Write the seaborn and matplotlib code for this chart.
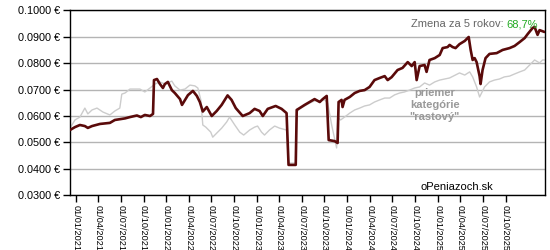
import matplotlib
matplotlib.use("Agg")
import matplotlib.pyplot as plt
import matplotlib.dates as mdates
import matplotlib.ticker as mticker
import seaborn as sns
import pandas as pd

fund_dates = ["2020-12-08","2020-12-28","2021-01-17","2021-02-06","2021-02-18","2021-03-07","2021-04-08","2021-05-18","2021-06-07","2021-07-18",
"2021-08-07","2021-09-04","2021-09-20","2021-10-06","2021-10-27","2021-11-08","2021-11-12","2021-11-24","2021-12-06","2021-12-18",
"2021-12-26","2022-01-07","2022-01-23","2022-02-04","2022-02-25","2022-03-05","2022-03-29","2022-04-18","2022-05-04","2022-05-16",
"2022-05-28","2022-06-13","2022-07-03","2022-07-23","2022-08-12","2022-09-05","2022-09-21","2022-10-08","2022-11-05","2022-12-03",
"2022-12-23","2023-01-12","2023-01-25","2023-02-14","2023-03-18","2023-04-11","2023-05-01","2023-05-09","2023-06-07","2023-06-11",
"2023-06-23","2023-07-13","2023-08-02","2023-08-22","2023-09-12","2023-09-24","2023-10-10","2023-10-18","2023-11-11","2023-11-23",
"2023-11-27","2023-12-09","2023-12-13","2023-12-21","2024-01-11","2024-01-31","2024-02-20","2024-03-11","2024-03-31","2024-04-20",
"2024-05-11","2024-05-31","2024-06-12","2024-06-28","2024-07-22","2024-08-11","2024-09-01","2024-09-17","2024-09-29","2024-10-07",
"2024-10-19","2024-11-08","2024-11-16","2024-11-28","2024-12-19","2025-01-08","2025-01-20","2025-02-09","2025-02-17","2025-03-01",
"2025-03-13","2025-03-29","2025-04-19","2025-05-05","2025-05-13","2025-05-21","2025-05-29","2025-06-06","2025-06-18","2025-06-22",
"2025-06-30","2025-07-12","2025-07-28","2025-08-26","2025-09-19","2025-10-17","2025-11-06","2025-11-27","2025-12-17","2025-12-29",
"2026-01-18","2026-01-26","2026-02-07","2026-02-15","2026-03-07"]
fund_values = [0.0547,0.0558,0.0566,0.0562,0.0555,0.0562,0.0570,0.0574,0.0585,0.0591,
0.0596,0.0602,0.0596,0.0604,0.0600,0.0608,0.0736,0.0740,0.0721,0.0706,
0.0721,0.0729,0.0698,0.0687,0.0664,0.0642,0.0679,0.0695,0.0676,0.0653,
0.0617,0.0634,0.0600,0.0619,0.0642,0.0678,0.0661,0.0630,0.0600,0.0611,
0.0627,0.0619,0.0600,0.0627,0.0638,0.0627,0.0611,0.0415,0.0415,0.0623,
0.0630,0.0642,0.0653,0.0664,0.0653,0.0664,0.0676,0.0509,0.0505,0.0498,
0.0653,0.0661,0.0634,0.0661,0.0672,0.0687,0.0695,0.0698,0.0710,0.0736,
0.0744,0.0751,0.0736,0.0747,0.0774,0.0782,0.0804,0.0789,0.0804,0.0736,
0.0789,0.0793,0.0767,0.0812,0.0819,0.0831,0.0857,0.0861,0.0869,0.0861,
0.0857,0.0872,0.0884,0.0899,0.0850,0.0812,0.0819,0.0804,0.0751,0.0721,
0.0774,0.0819,0.0835,0.0838,0.0850,0.0857,0.0865,0.0880,0.0895,0.0910,
0.0933,0.0937,0.0907,0.0925,0.0918]

avg_dates = ["2020-12-08","2020-12-28","2021-01-17","2021-02-06","2021-02-18","2021-03-07","2021-03-27","2021-04-20","2021-05-18","2021-06-07",
"2021-06-27","2021-07-05","2021-07-18","2021-08-07","2021-08-27","2021-09-16","2021-10-06","2021-10-27","2021-11-16","2021-12-06",
"2021-12-26","2022-01-15","2022-01-23","2022-02-04","2022-02-25","2022-03-17","2022-04-06","2022-04-26","2022-05-08","2022-05-20",
"2022-05-28","2022-06-09","2022-06-29","2022-07-07","2022-07-27","2022-08-12","2022-09-01","2022-09-13","2022-10-04","2022-10-24",
"2022-11-09","2022-12-03","2022-12-23","2023-01-04","2023-01-20","2023-02-01","2023-02-21","2023-03-14","2023-04-03","2023-05-01",
"2023-05-09","2023-06-07","2023-06-11","2023-06-23","2023-07-13","2023-08-02","2023-08-22","2023-09-12","2023-10-02","2023-10-14",
"2023-10-30","2023-11-19","2023-11-23","2023-12-05","2023-12-21","2024-01-11","2024-01-31","2024-02-20","2024-03-11","2024-03-31",
"2024-04-20","2024-05-11","2024-05-31","2024-06-20","2024-07-10","2024-07-30","2024-08-19","2024-09-08","2024-09-29","2024-10-19",
"2024-11-08","2024-11-28","2024-12-19","2025-01-08","2025-02-17","2025-03-29","2025-04-19","2025-05-09","2025-05-21","2025-06-06",
"2025-06-18","2025-06-26","2025-07-08","2025-07-28","2025-08-17","2025-09-06","2025-09-26","2025-10-17","2025-11-06","2025-11-27",
"2025-12-17","2026-01-06","2026-01-26","2026-02-15","2026-02-27","2026-03-07"]
avg_values = [0.0554,0.0585,0.0596,0.0630,0.0608,0.0623,0.0630,0.0615,0.0604,0.0619,
0.0630,0.0683,0.0687,0.0702,0.0702,0.0702,0.0691,0.0706,0.0721,0.0729,
0.0721,0.0729,0.0732,0.0714,0.0698,0.0702,0.0717,0.0714,0.0706,0.0661,
0.0566,0.0558,0.0539,0.0520,0.0539,0.0554,0.0577,0.0596,0.0566,0.0539,
0.0528,0.0547,0.0558,0.0562,0.0539,0.0528,0.0547,0.0562,0.0554,0.0547,
0.0422,0.0422,0.0615,0.0627,0.0638,0.0649,0.0657,0.0657,0.0661,0.0649,
0.0566,0.0479,0.0596,0.0585,0.0596,0.0611,0.0623,0.0630,0.0638,0.0642,
0.0653,0.0661,0.0668,0.0668,0.0680,0.0687,0.0691,0.0698,0.0706,0.0710,
0.0725,0.0717,0.0729,0.0736,0.0744,0.0763,0.0755,0.0767,0.0748,0.0710,
0.0672,0.0687,0.0710,0.0729,0.0736,0.0740,0.0748,0.0751,0.0759,0.0767,
0.0774,0.0793,0.0812,0.0801,0.0812,0.0812]

tick_dates = ["2021-01-01","2021-04-01","2021-07-01","2021-10-01","2022-01-01","2022-04-01","2022-07-01","2022-10-01",
"2023-01-01","2023-04-01","2023-07-01","2023-10-01","2024-01-01","2024-04-01","2024-07-01","2024-10-01",
"2025-01-01","2025-04-01","2025-07-01","2025-10-01"]
y_ticks = [0.03, 0.04, 0.05, 0.06, 0.07, 0.08, 0.09, 0.10]
change_label = "Zmena za 5 rokov: "
change_value = "68,7%"
avg_label = "priemer\nkategórie\n\"rastový\""
source_label = "oPeniazoch.sk"

sns.set_theme(style="white")
plt.rcParams['font.family'] = ['Liberation Sans', 'DejaVu Sans']

fund = pd.DataFrame({"date": pd.to_datetime(fund_dates), "value": fund_values})
avg = pd.DataFrame({"date": pd.to_datetime(avg_dates), "value": avg_values})

fig = plt.figure(figsize=(5.5, 2.5), dpi=100)
ax = fig.add_axes([70/550, 1-195.3/250, 475/550, 185/250])

for yv in y_ticks:
    ax.axhline(yv, color="#b4b4b4", linewidth=1.0, zorder=0)

sns.lineplot(data=avg, x="date", y="value", ax=ax, color="#cccccc", linewidth=1.0, zorder=2)
sns.lineplot(data=fund, x="date", y="value", ax=ax, color="#5a0a0a", linewidth=1.9, zorder=3)

ax.set_xlim(pd.Timestamp("2020-12-08"), pd.Timestamp("2026-03-09"))
ax.set_ylim(0.03, 0.10)
ax.set_xlabel("")
ax.set_ylabel("")

ax.set_yticks(y_ticks)
ax.yaxis.set_major_formatter(mticker.FuncFormatter(lambda v, p: f"{v:.4f} €"))
ax.set_xticks(pd.to_datetime(tick_dates))
ax.xaxis.set_major_formatter(mdates.DateFormatter("%d/%m/%Y"))
ax.tick_params(axis="x", direction="out", length=5, width=1, color="black", labelsize=6.6, labelcolor="black",
               rotation=270, pad=2, bottom=True)
ax.tick_params(axis="y", direction="out", length=5, width=1, color="black", labelsize=7.8, labelcolor="black",
               pad=2, left=True)
for lbl in ax.get_xticklabels():
    lbl.set_verticalalignment("top")
    lbl.set_horizontalalignment("center")

for s in ax.spines.values():
    s.set_visible(True)
    s.set_color("black")
    s.set_linewidth(1.0)

t1 = ax.text(0.985, 0.925, change_value, transform=ax.transAxes, ha="right", va="center",
             fontsize=8, color="#22aa22")
fig.canvas.draw()
bb = t1.get_window_extent()
inv = ax.transAxes.inverted()
x0 = inv.transform((bb.x0, bb.y0))[0]
ax.text(x0, 0.925, change_label, transform=ax.transAxes, ha="right", va="center",
        fontsize=8, color="#666666")

ax.text(0.768, 0.49, avg_label, transform=ax.transAxes, ha="center", va="center",
        fontsize=8, color="#999999", fontweight="bold", linespacing=1.25)
ax.text(0.815, 0.045, source_label, transform=ax.transAxes, ha="center", va="center",
        fontsize=8, color="black")

fig.savefig("out.png", dpi=100, facecolor="white")
